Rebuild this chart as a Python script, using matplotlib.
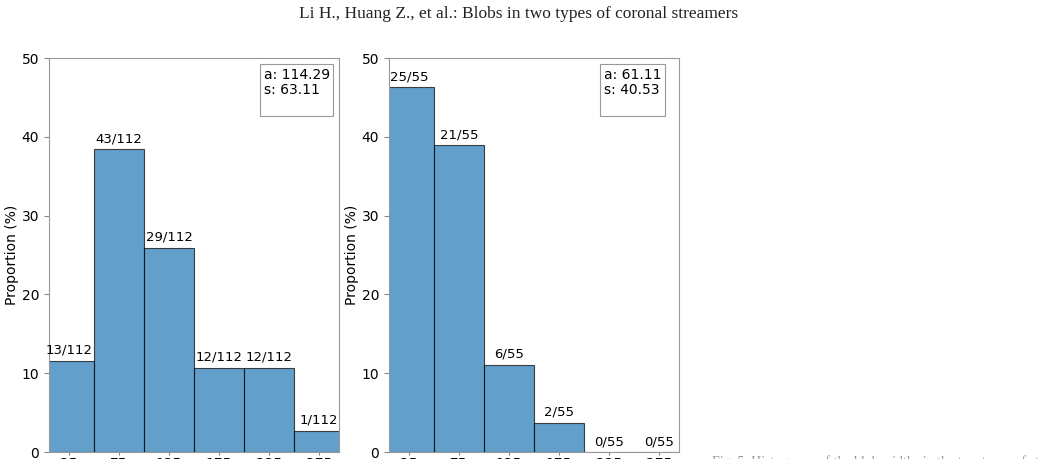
import matplotlib.pyplot as plt

# bin centres (50-wide bins)
bin_centers = [25, 75, 125, 175, 225, 275]
tick_labels = ["25", "75", "125", "175", "225", "275"]

left_props = [11.6, 38.4, 25.9, 10.7, 10.7, 2.7]
left_labels = ["13/112", "43/112", "29/112", "12/112", "12/112", "1/112"]
left_stats = "a: 114.29\ns: 63.11\n"

right_props = [46.3, 38.9, 11.1, 3.7, 0.0, 0.0]
right_labels = ["25/55", "21/55", "6/55", "2/55", "0/55", "0/55"]
right_stats = "a: 61.11\ns: 40.53\n"

header = "Li H., Huang Z., et al.: Blobs in two types of coronal streamers"
caption = "Fig. 5. Histograms of the blob widths in the two types of streamers."


def Draw_Panel(ax, props, labels, stats):
    ax.bar(bin_centers, props, width=50, color="#1f77b4", alpha=0.7,
           edgecolor="black", linewidth=0.8)
    for x, h, s in zip(bin_centers, props, labels):
        ax.text(x, h + 0.5, s, ha="center", va="bottom", fontsize=9.5)
    ax.set_xlim(5, 295)
    ax.set_ylim(0, 50)
    ax.set_xticks(bin_centers)
    ax.set_xticklabels(tick_labels)
    ax.set_yticks([0, 10, 20, 30, 40, 50])
    ax.set_ylabel("Proportion (%)", fontsize=10, labelpad=2)
    ax.tick_params(labelsize=10, color="#888888")
    ax.tick_params(axis="x", length=2.5, pad=1.3)
    for sp in ax.spines.values():
        sp.set_color("#999999")
    ax.text(0.74, 0.975, stats, transform=ax.transAxes, ha="left", va="top",
            fontsize=10, linespacing=1.1,
            bbox=dict(boxstyle="square,pad=0.25", facecolor="white",
                      edgecolor="#999999", linewidth=0.8))


fig = plt.figure(figsize=(10.39, 4.59), dpi=100)
W, H = 1039, 459
ax1 = fig.add_axes([49 / W, 1 - 452 / H, 290 / W, 394 / H])
ax2 = fig.add_axes([389 / W, 1 - 452 / H, 290 / W, 394 / H])
Draw_Panel(ax1, left_props, left_labels, left_stats)
Draw_Panel(ax2, right_props, right_labels, right_stats)

fig.text(519 / W, 1 - 14 / H, header, ha="center", va="center",
         family="Liberation Serif", fontsize=12.5, color="#222222")
fig.text(712 / W, 1 - 455.5 / H, caption, ha="left", va="top",
         family="Liberation Serif", fontsize=10, color="#999999")

fig.savefig("out.png", dpi=100)
